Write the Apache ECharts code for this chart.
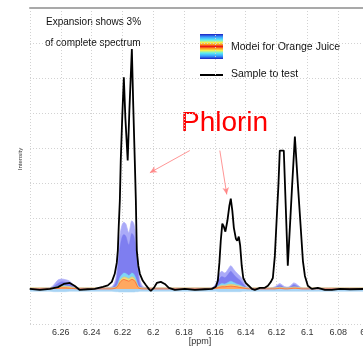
<!DOCTYPE html>
<html>
<head>
<meta charset="utf-8">
<script src="https://cdn.jsdelivr.net/npm/echarts@6/dist/echarts.min.js"></script>
<style>
html,body{margin:0;padding:0;background:#fff;}
#chart{width:363px;height:347px;}
</style>
</head>
<body>
<div id="chart"></div>
<script>
// ---- Data (ppm, intensity in arbitrary units) ----
const xMin = 6.06, xMax = 6.28, xStep = 0.02;
const yMin = -1, yMax = 8, yStep = 1;

// Sample to test (black line)
const sampleX = [6.28, 6.2736, 6.2671, 6.2619, 6.2581, 6.2542, 6.2509, 6.2477, 6.2425, 6.2380,
  6.2327, 6.2295, 6.2269, 6.2250, 6.2237, 6.2230, 6.2224, 6.2217, 6.2211, 6.2201,
  6.2191, 6.2181, 6.2166, 6.2155, 6.2139, 6.2130, 6.2120, 6.2113, 6.2107, 6.2097,
  6.2087, 6.2068, 6.2048, 6.2029, 6.2016, 6.1996, 6.1977, 6.1951, 6.1925, 6.1899,
  6.1860, 6.1795, 6.1730, 6.1665, 6.1620, 6.1594, 6.1581, 6.1571, 6.1562, 6.1552,
  6.1542, 6.1532, 6.1519, 6.1506, 6.1497, 6.1487, 6.1477, 6.1464, 6.1455, 6.1445,
  6.1436, 6.1426, 6.1416, 6.1400, 6.1381, 6.1360, 6.1341, 6.1308, 6.1276, 6.1256,
  6.1237, 6.1224, 6.1211, 6.1198, 6.1188, 6.1179, 6.1153, 6.1140, 6.1127, 6.1114,
  6.1101, 6.1081, 6.1062, 6.1049, 6.1029, 6.1016, 6.0997, 6.0971, 6.0932, 6.0886,
  6.0841, 6.0789, 6.0724, 6.06];
const sampleY = [0.0, -0.03, 0.0, 0.05, 0.14, 0.17, 0.08, -0.03, -0.01, 0.0,
  0.06, 0.1, 0.2, 0.43, 0.74, 1.09, 1.8, 2.51, 3.66, 4.94,
  6.03, 4.86, 3.66, 5.09, 6.83, 5.23, 3.66, 2.51, 1.09, 0.66,
  0.43, 0.23, 0.11, 0.0, -0.06, 0.03, 0.17, 0.2, 0.14, 0.03,
  -0.03, 0.0, -0.03, -0.01, 0.0, 0.06, 0.23, 0.74, 1.37, 1.86,
  1.77, 1.63, 1.94, 2.37, 2.57, 2.23, 1.74, 1.43, 1.37, 1.49,
  1.23, 0.66, 0.31, 0.17, 0.09, 0.0, -0.03, 0.03, 0.03, 0.09,
  0.2, 0.31, 0.94, 2.09, 2.94, 3.94, 3.94, 2.31, 0.66, 1.71,
  2.77, 4.34, 3.0, 2.14, 0.8, 0.37, 0.09, 0.0, 0.03, -0.03,
  -0.03, 0.0, -0.01, 0.0];

// Model for Orange Juice (percentile bands)
const modelX = [6.28, 6.2671, 6.2645, 6.2619, 6.2594, 6.2568, 6.2542, 6.2516, 6.2477, 6.2347,
  6.2269, 6.2243, 6.2230, 6.2217, 6.2204, 6.2191, 6.2178, 6.2165, 6.2159, 6.2152,
  6.2139, 6.2126, 6.2113, 6.2100, 6.2087, 6.2061, 6.1957, 6.1698, 6.1620, 6.1594,
  6.1575, 6.1555, 6.1536, 6.1516, 6.1497, 6.1477, 6.1458, 6.1438, 6.1419, 6.1399,
  6.1373, 6.1347, 6.1244, 6.1211, 6.1192, 6.1179, 6.1166, 6.1146, 6.1127, 6.1107,
  6.1088, 6.1075, 6.1055, 6.1036, 6.1010, 6.06];
const modelOuter = [0.01, 0.03, 0.12, 0.25, 0.28, 0.26, 0.22, 0.1, 0.02, 0.02,
  0.06, 0.3, 0.9, 1.5, 1.8, 1.9, 1.85, 1.65, 1.6, 1.7,
  1.94, 1.85, 1.5, 0.8, 0.25, 0.05, 0.02, 0.02, 0.03, 0.15,
  0.4, 0.5, 0.45, 0.55, 0.66, 0.55, 0.45, 0.37, 0.25, 0.1,
  0.03, 0.02, 0.02, 0.06, 0.12, 0.15, 0.12, 0.06, 0.05, 0.1,
  0.17, 0.15, 0.08, 0.03, 0.02, 0.02];
const modelBlue = [0.01, 0.02, 0.07, 0.15, 0.2, 0.18, 0.13, 0.05, 0.01, 0.01,
  0.03, 0.18, 0.6, 1.15, 1.45, 1.55, 1.5, 1.3, 1.25, 1.35,
  1.58, 1.5, 1.15, 0.5, 0.12, 0.02, 0.01, 0.01, 0.02, 0.08,
  0.25, 0.35, 0.32, 0.4, 0.5, 0.4, 0.32, 0.25, 0.15, 0.05,
  0.01, 0.01, 0.01, 0.03, 0.08, 0.1, 0.08, 0.03, 0.03, 0.06,
  0.12, 0.1, 0.05, 0.01, 0.01, 0.01];
const modelCyan = [0.01, 0.01, 0.04, 0.08, 0.1, 0.09, 0.07, 0.03, 0.01, 0.01,
  0.02, 0.06, 0.15, 0.32, 0.4, 0.45, 0.44, 0.4, 0.38, 0.4,
  0.45, 0.42, 0.3, 0.12, 0.04, 0.01, 0.01, 0.01, 0.01, 0.04,
  0.1, 0.15, 0.14, 0.18, 0.22, 0.18, 0.14, 0.11, 0.07, 0.03,
  0.01, 0.01, 0.01, 0.02, 0.04, 0.05, 0.04, 0.02, 0.02, 0.03,
  0.05, 0.05, 0.03, 0.01, 0.01, 0.01];
const modelYellow = [0.03, 0.03, 0.04, 0.06, 0.07, 0.07, 0.06, 0.04, 0.03, 0.03,
  0.03, 0.05, 0.1, 0.24, 0.3, 0.34, 0.33, 0.3, 0.29, 0.31,
  0.34, 0.32, 0.22, 0.08, 0.04, 0.03, 0.03, 0.03, 0.03, 0.04,
  0.07, 0.1, 0.1, 0.12, 0.13, 0.12, 0.1, 0.08, 0.05, 0.04,
  0.03, 0.03, 0.03, 0.03, 0.04, 0.05, 0.04, 0.03, 0.03, 0.04,
  0.05, 0.05, 0.04, 0.03, 0.03, 0.03];
const modelMedian = [0, 0, 0.01, 0.02, 0.03, 0.03, 0.02, 0.01, 0, 0,
  0, 0.03, 0.08, 0.18, 0.24, 0.27, 0.25, 0.23, 0.22, 0.24,
  0.27, 0.25, 0.17, 0.05, 0.01, 0, 0, 0, 0, 0.02,
  0.04, 0.06, 0.06, 0.07, 0.08, 0.07, 0.06, 0.04, 0.03, 0.01,
  0, 0, 0, 0, 0.01, 0.02, 0.01, 0, 0, 0.01,
  0.02, 0.02, 0.01, 0, 0, 0];
const modelLower = [-0.07, -0.07, -0.08, -0.08, -0.08, -0.08, -0.07, -0.07, -0.07, -0.07,
  -0.07, -0.08, -0.08, -0.09, -0.09, -0.09, -0.09, -0.09, -0.09, -0.09,
  -0.09, -0.09, -0.08, -0.08, -0.07, -0.07, -0.07, -0.07, -0.07, -0.07,
  -0.08, -0.08, -0.08, -0.08, -0.08, -0.08, -0.08, -0.08, -0.07, -0.07,
  -0.07, -0.07, -0.07, -0.07, -0.07, -0.07, -0.07, -0.07, -0.07, -0.07,
  -0.07, -0.07, -0.07, -0.07, -0.07, -0.07];

// Annotation arrows (ppm, intensity)
const arrowFrom = [[6.1763, 3.94], [6.1568, 3.94]];
const arrowTo = [[6.2022, 3.31], [6.1523, 2.69]];

const texts = {
  note1: 'Expansion shows 3%',
  note2: 'of complete spectrum',
  legendModel: 'Model for Orange Juice',
  legendSample: 'Sample to test',
  phlorin: 'Phlorin',
  xName: '[ppm]',
  yName: 'Intensity'
};

const FONT = '"Liberation Sans", Arial, Helvetica, sans-serif';
const pairs = (xs, ys) => xs.map((x, i) => [x, ys[i]]);

function band(name, ys, fill, line, lw) {
  return {
    name, type: 'line', data: pairs(modelX, ys), showSymbol: false, symbol: 'none',
    smooth: 0.3, silent: true,
    lineStyle: { color: line || fill, width: lw || 0.5 },
    areaStyle: { color: fill, opacity: 1 },
    z: 2
  };
}

const chart = echarts.init(document.getElementById('chart'), null, { renderer: 'canvas' });
const option = {
  animation: false,
  backgroundColor: '#ffffff',
  textStyle: { fontFamily: FONT },
  grid: { left: 30, right: -6, top: 8, bottom: 23, containLabel: false, outerBoundsMode: 'none' },
  xAxis: [{
    type: 'value', min: xMin, max: xMax, interval: xStep, inverse: true, position: 'bottom',
    axisLine: { show: true, lineStyle: { color: '#a9a9a9', width: 2 } },
    axisTick: { show: false },
    axisLabel: {
      color: '#333', fontSize: 9, margin: 4, fontFamily: FONT,
      showMaxLabel: false, showMinLabel: true, hideOverlap: false,
      formatter: v => String(parseFloat(v.toFixed(2)))
    },
    splitLine: { show: true, lineStyle: { color: '#d2d2d2', width: 1, type: [1, 2] } }
  }, {
    type: 'value', min: xMin, max: xMax, interval: xStep, inverse: true, position: 'top',
    axisLine: { show: true, lineStyle: { color: '#a9a9a9', width: 2 } },
    axisTick: { show: false }, axisLabel: { show: false }, splitLine: { show: false }
  }],
  yAxis: {
    type: 'value', min: yMin, max: yMax, interval: yStep,
    axisLine: { show: false }, axisTick: { show: false }, axisLabel: { show: false },
    splitLine: { show: true, lineStyle: { color: '#d2d2d2', width: 1, type: [1, 2] } }
  },
  series: [
    band('lower', modelLower, '#a8d4f4', '#a8d4f4', 0.5),
    band('outer', modelOuter, '#aaaaf8', '#b4b4fa', 0.8),
    band('blue', modelBlue, '#7e7ef0', '#7e7ef0', 0.5),
    band('cyan', modelCyan, '#7fd6f4', '#7fd6f4', 0.5),
    band('yellow', modelYellow, '#eedc78', '#e0c484', 0.8),
    band('median', modelMedian, '#ffa860', '#ff6a3a', 0.9),
    {
      name: 'Sample to test', type: 'line', data: pairs(sampleX, sampleY),
      showSymbol: false, symbol: 'none', smooth: false, z: 5,
      lineStyle: { color: '#000', width: 1.8 },
      markLine: {
        silent: true, symbol: ['none', 'arrow'], symbolSize: [5, 7],
        label: { show: false },
        lineStyle: { color: '#ff7c7c', width: 1, type: 'solid', opacity: 0.8 },
        data: arrowFrom.map((f, i) => [{ coord: f }, { coord: arrowTo[i] }])
      }
    }
  ],
  graphic: [
    { type: 'text', left: 46, top: 17, style: { text: texts.note1, font: '10px ' + FONT, fill: '#111' } },
    { type: 'text', left: 45, top: 38, style: { text: texts.note2, font: '10px ' + FONT, fill: '#111' } },
    {
      type: 'rect', shape: { x: 200, y: 34, width: 23, height: 25 },
      style: {
        fill: new echarts.graphic.LinearGradient(0, 0, 0, 1, [
          { offset: 0, color: '#1c1cc0' }, { offset: 0.12, color: '#3aa0ff' },
          { offset: 0.24, color: '#5ef0f0' }, { offset: 0.34, color: '#f4f050' },
          { offset: 0.42, color: '#ff9a20' }, { offset: 0.5, color: '#e81818' },
          { offset: 0.58, color: '#ff9a20' }, { offset: 0.66, color: '#f4f050' },
          { offset: 0.76, color: '#5ef0f0' }, { offset: 0.88, color: '#3aa0ff' },
          { offset: 1, color: '#1c1cc0' }
        ])
      }
    },
    { type: 'line', shape: { x1: 200, y1: 75, x2: 223, y2: 75 }, style: { stroke: '#000', lineWidth: 2 } },
    { type: 'text', left: 231, top: 42, style: { text: texts.legendModel, font: '10.5px ' + FONT, fill: '#111' } },
    { type: 'text', left: 231, top: 69, style: { text: texts.legendSample, font: '10.5px ' + FONT, fill: '#111' } },
    { type: 'text', left: 181, top: 109, style: { text: texts.phlorin, font: '28px ' + FONT, fill: '#ff0000' } },
    {
      type: 'text', x: 200, y: 342,
      style: { text: texts.xName, font: '9px ' + FONT, fill: '#333', align: 'center', verticalAlign: 'middle' }
    },
    {
      type: 'text', x: 20, y: 159, rotation: Math.PI / 2,
      style: { text: texts.yName, font: '6px ' + FONT, fill: '#333', align: 'center', verticalAlign: 'middle' }
    }
  ]
};
chart.setOption(option);
</script>
</body>
</html>
